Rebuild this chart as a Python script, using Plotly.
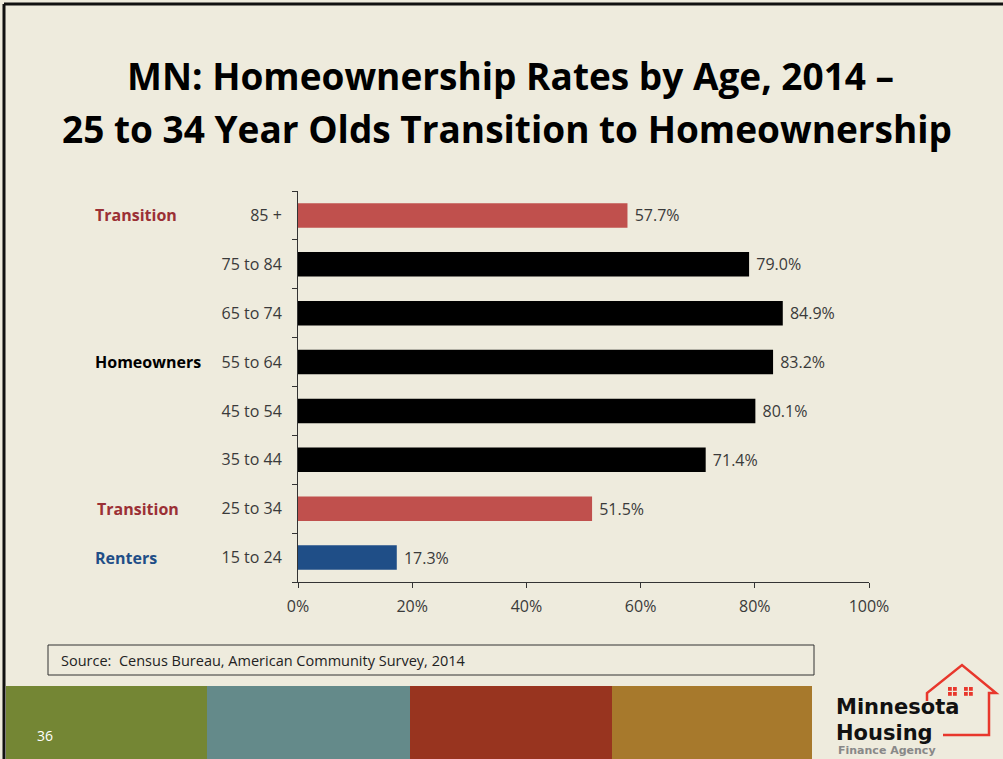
import plotly.graph_objects as go

# ---- data ----
age_groups = ["15 to 24", "25 to 34", "35 to 44", "45 to 54", "55 to 64", "65 to 74", "75 to 84", "85 +"]
rates = [17.3, 51.5, 71.4, 80.1, 83.2, 84.9, 79.0, 57.7]
bar_colors = ["#1F4E87", "#C0504D", "#000000", "#000000", "#000000", "#000000", "#000000", "#C0504D"]
x_ticks = [0, 20, 40, 60, 80, 100]
x_tick_labels = ["0%", "20%", "40%", "60%", "80%", "100%"]
group_labels = ["Transition", "Homeowners", "Transition", "Renters"]
group_rows = ["85 +", "55 to 64", "25 to 34", "15 to 24"]
group_colors = ["#9B3035", "#000000", "#9B3035", "#1F4E87"]
group_x_px = [93, 93, 95, 93]

W, H = 1003, 759
L, R, T, B = 298, 869, 191, 582
FONT = "Open Sans, sans-serif"
LOGO_FONT = "DejaVu Sans, sans-serif"


def px(x):
    return (x - L) / (R - L)


def py(y):
    return (B - y) / (B - T)


fig = go.Figure()
fig.add_trace(go.Bar(
    x=rates, y=age_groups, orientation="h",
    marker=dict(color=bar_colors, line=dict(width=0)),
    width=0.5,
    text=[f" {v:.1f}%" for v in rates], textposition="outside",
    textfont=dict(family=FONT, size=16, color="#3A3A3A"),
    cliponaxis=False, showlegend=False, hoverinfo="x+y",
))

shapes = []
# slide frame
shapes.append(dict(type="line", xref="paper", yref="paper", x0=px(4), x1=px(4), y0=py(4), y1=py(759),
                   line=dict(color="#111111", width=3), layer="above"))
shapes.append(dict(type="line", xref="paper", yref="paper", x0=px(4), x1=px(1003), y0=py(4), y1=py(4),
                   line=dict(color="#111111", width=3), layer="above"))
# source box
shapes.append(dict(type="rect", xref="paper", yref="paper", x0=px(48), x1=px(814), y0=py(675), y1=py(645),
                   line=dict(color="#333333", width=1), fillcolor="rgba(0,0,0,0)"))
# colour bands
bands = [(6, 207, "#748634"), (207, 410, "#648A8A"), (410, 612, "#98341F"), (612, 812, "#A7792C")]
for x0, x1, c in bands:
    shapes.append(dict(type="rect", xref="paper", yref="paper", x0=px(x0), x1=px(x1), y0=py(759), y1=py(686),
                       line=dict(width=0), fillcolor=c, layer="below"))
# logo house outline
house = [(927, 701), (927, 693), (962, 665), (996, 693), (989, 693), (989, 735), (943, 735)]
path = "M " + " L ".join(f"{px(x):.5f},{py(y):.5f}" for x, y in house)
shapes.append(dict(type="path", xref="paper", yref="paper", path=path,
                   line=dict(color="#E8372C", width=2.5)))
for gx in (948, 964):
    for dx in (0, 5):
        for dy in (0, 5):
            shapes.append(dict(type="rect", xref="paper", yref="paper",
                               x0=px(gx + dx), x1=px(gx + dx + 3.8), y0=py(687 + dy + 3.8), y1=py(687 + dy),
                               line=dict(width=0), fillcolor="#E8372C"))

annotations = []
annotations.append(dict(text="<b>MN: Homeownership Rates by Age, 2014 –</b>", xref="paper", yref="paper",
                        x=px(510), y=py(75), xanchor="center", yanchor="middle", showarrow=False,
                        font=dict(family=FONT, size=37, color="#000000")))
annotations.append(dict(text="<b>25 to 34 Year Olds Transition to Homeownership</b>", xref="paper", yref="paper",
                        x=px(507), y=py(128), xanchor="center", yanchor="middle", showarrow=False,
                        font=dict(family=FONT, size=37, color="#000000")))
for lbl, row, col, gx in zip(group_labels, group_rows, group_colors, group_x_px):
    annotations.append(dict(text=f"<b>{lbl}</b>", xref="paper", yref="y", x=px(gx), y=row,
                            xanchor="left", yanchor="middle", showarrow=False,
                            font=dict(family=FONT, size=16, color=col)))
annotations.append(dict(text="Source:  Census Bureau, American Community Survey, 2014", xref="paper", yref="paper",
                        x=px(59), y=py(660), xanchor="left", yanchor="middle", showarrow=False,
                        font=dict(family=FONT, size=14.5, color="#222222")))
annotations.append(dict(text="36", xref="paper", yref="paper", x=px(35), y=py(735), xanchor="left",
                        yanchor="middle", showarrow=False, font=dict(family=FONT, size=14, color="#FFFFFF")))
annotations.append(dict(text="<b>Minnesota</b>", xref="paper", yref="paper", x=px(834), y=py(707), xanchor="left",
                        yanchor="middle", showarrow=False,
                        font=dict(family=LOGO_FONT, size=21, color="#111111")))
annotations.append(dict(text="<b>Housing</b>", xref="paper", yref="paper", x=px(834), y=py(733), xanchor="left",
                        yanchor="middle", showarrow=False,
                        font=dict(family=LOGO_FONT, size=21, color="#111111")))
annotations.append(dict(text="<b>Finance Agency</b>", xref="paper", yref="paper", x=px(836), y=py(750),
                        xanchor="left", yanchor="middle", showarrow=False,
                        font=dict(family=LOGO_FONT, size=11, color="#888888")))

fig.update_layout(
    width=W, height=H, autosize=False,
    margin=dict(l=L, r=W - R, t=T, b=H - B, pad=0),
    paper_bgcolor="#EEEBDD", plot_bgcolor="rgba(0,0,0,0)",
    bargap=0.5,
    shapes=shapes, annotations=annotations,
    xaxis=dict(range=[0, 100], tickvals=x_ticks, ticktext=x_tick_labels, showgrid=False, zeroline=False,
               showline=True, linecolor="#333333", linewidth=1, ticks="outside", ticklen=5, tickcolor="#333333",
               ticklabelstandoff=5,
               tickfont=dict(family=FONT, size=16, color="#3A3A3A"), fixedrange=True),
    yaxis=dict(categoryorder="array", categoryarray=age_groups, showgrid=False, zeroline=False,
               showline=True, linecolor="#333333", linewidth=1, ticks="outside", ticklen=5, tickcolor="#333333",
               tickson="boundaries", ticklabelstandoff=12,
               tickfont=dict(family=FONT, size=16, color="#3A3A3A"), fixedrange=True),
)

fig.write_html("out.html", config={"displayModeBar": False},
               post_script="document.body.style.margin='0';document.body.style.overflow='hidden';")
